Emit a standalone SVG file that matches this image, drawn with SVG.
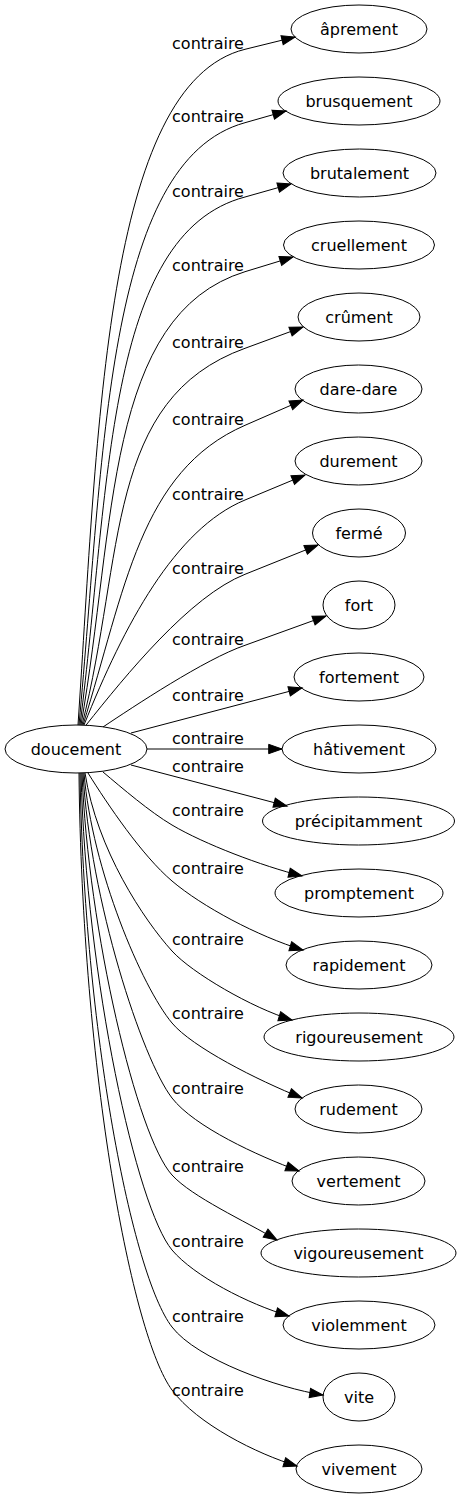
<svg xmlns="http://www.w3.org/2000/svg" width="461" height="1499" viewBox="0 0 461 1499">
<style>
  .node ellipse { fill: none; stroke: #000; stroke-width: 1; }
  text { font-family: "DejaVu Sans", "Liberation Sans", sans-serif; font-size: 16px; fill: #000; text-anchor: middle; }
  .edge path { fill: none; stroke: #000; stroke-width: 1; marker-end: url(#arrow); }
</style>
<defs>
  <marker id="arrow" markerWidth="14" markerHeight="10" refX="13.3" refY="4.67" orient="auto" markerUnits="userSpaceOnUse" overflow="visible">
    <path d="M0,0 L13.3,4.67 L0,9.33 Z" fill="#000" stroke="#000" stroke-width="1"/>
  </marker>
</defs>
<rect width="461" height="1499" fill="#fff"/>
<g id="edges">
  <g class="edge" id="e1"><path d="M78,725 C98,428 105,84 245,49.3 L295,37"/><text x="208" y="48.8">contraire</text></g>
  <g class="edge" id="e2"><path d="M79,725 C104,457 105,161 245,122.7 L286,111"/><text x="208" y="122.2">contraire</text></g>
  <g class="edge" id="e3"><path d="M80,725 C110,490 105,234 245,197 L291,184"/><text x="208" y="196.5">contraire</text></g>
  <g class="edge" id="e4"><path d="M81,725 C116,525 105,315 245,271.7 L293,257"/><text x="208" y="271.2">contraire</text></g>
  <g class="edge" id="e5"><path d="M82,725 C125,555 105,399 245,348.3 L303,327"/><text x="208" y="347.8">contraire</text></g>
  <g class="edge" id="e6"><path d="M83,725 C125,590 140,471 245,425.3 L303,400"/><text x="208" y="424.8">contraire</text></g>
  <g class="edge" id="e7"><path d="M84,725 C124,625 175,529 245,500 L305,475"/><text x="208" y="499.5">contraire</text></g>
  <g class="edge" id="e8"><path d="M86,725.2 C126,675 190,596 245,574.3 L318,545"/><text x="208" y="573.8">contraire</text></g>
  <g class="edge" id="e9"><path d="M103,727 C133,707 205,659 245,645.3 L326,616"/><text x="208" y="644.8">contraire</text></g>
  <g class="edge" id="e10"><path d="M131,733 L302,688"/><text x="208" y="701.2">contraire</text></g>
  <g class="edge" id="e11"><path d="M147,749 L282,749"/><text x="208" y="743.8">contraire</text></g>
  <g class="edge" id="e12"><path d="M131,765 L287,806"/><text x="208" y="771.5">contraire</text></g>
  <g class="edge" id="e13"><path d="M103,772 C122,788 150,812 172,825 C204,844 262,866 302,876"/><text x="208" y="815.5">contraire</text></g>
  <g class="edge" id="e14"><path d="M88,773 C108,805 142,855.5 172,881 C202,906.5 258,936.5 303,950"/><text x="208" y="873.8">contraire</text></g>
  <g class="edge" id="e15"><path d="M85,773 C97,850 144,920 172,951 C192,973 252,1008 292,1020"/><text x="208" y="944.8">contraire</text></g>
  <g class="edge" id="e16"><path d="M84,773 C92,870 142,987 172,1023 C192,1047 257,1080 302,1098"/><text x="208" y="1018.8">contraire</text></g>
  <g class="edge" id="e17"><path d="M83,773 C90,900 142,1059 172,1098 C194,1126.6 258,1156 299,1171"/><text x="208" y="1093.8">contraire</text></g>
  <g class="edge" id="e18"><path d="M82,773 C88,930 137,1136.5 172,1175 C192,1197 245,1221 277,1240"/><text x="208" y="1171.5">contraire</text></g>
  <g class="edge" id="e19"><path d="M81,773 C86,980 137,1208 172,1250 C194,1276 248,1304 289,1316"/><text x="208" y="1247.2">contraire</text></g>
  <g class="edge" id="e20"><path d="M80,773 C84,1030 132,1275 172,1327 C197,1359.5 278,1388 323,1395"/><text x="208" y="1322.2">contraire</text></g>
  <g class="edge" id="e21"><path d="M79,773 C82,1073 132,1336 172,1390 C197,1424 257,1454 297,1466"/><text x="208" y="1395.5">contraire</text></g>
</g>
<g class="node" id="doucement"><ellipse cx="76" cy="749" rx="71" ry="24"/><text x="76" y="754.5">doucement</text></g>
<g class="node" id="aprement"><ellipse cx="359" cy="29" rx="68" ry="24"/><text x="359" y="34.5">âprement</text></g>
<g class="node" id="brusquement"><ellipse cx="359" cy="101" rx="81" ry="24"/><text x="359" y="106.5">brusquement</text></g>
<g class="node" id="brutalement"><ellipse cx="359.5" cy="173" rx="76.5" ry="24"/><text x="359.5" y="178.5">brutalement</text></g>
<g class="node" id="cruellement"><ellipse cx="359" cy="245" rx="75.5" ry="24"/><text x="359" y="250.5">cruellement</text></g>
<g class="node" id="crument"><ellipse cx="359" cy="317" rx="61" ry="24"/><text x="359" y="322.5">crûment</text></g>
<g class="node" id="dare-dare"><ellipse cx="358.5" cy="389" rx="63.5" ry="24"/><text x="358.5" y="394.5">dare-dare</text></g>
<g class="node" id="durement"><ellipse cx="358.5" cy="461" rx="63.5" ry="24"/><text x="358.5" y="466.5">durement</text></g>
<g class="node" id="ferme"><ellipse cx="359" cy="533" rx="46.5" ry="24"/><text x="359" y="538.5">fermé</text></g>
<g class="node" id="fort"><ellipse cx="359" cy="605" rx="36" ry="24"/><text x="359" y="610.5">fort</text></g>
<g class="node" id="fortement"><ellipse cx="359" cy="677" rx="65" ry="24"/><text x="359" y="682.5">fortement</text></g>
<g class="node" id="hativement"><ellipse cx="359" cy="749" rx="77" ry="24"/><text x="359" y="754.5">hâtivement</text></g>
<g class="node" id="precipitamment"><ellipse cx="358.5" cy="821" rx="96" ry="24"/><text x="358.5" y="826.5">précipitamment</text></g>
<g class="node" id="promptement"><ellipse cx="359" cy="893" rx="84" ry="24"/><text x="359" y="898.5">promptement</text></g>
<g class="node" id="rapidement"><ellipse cx="359" cy="965" rx="73" ry="24"/><text x="359" y="970.5">rapidement</text></g>
<g class="node" id="rigoureusement"><ellipse cx="359" cy="1037" rx="95" ry="24"/><text x="359" y="1042.5">rigoureusement</text></g>
<g class="node" id="rudement"><ellipse cx="358.5" cy="1109" rx="63.5" ry="24"/><text x="358.5" y="1114.5">rudement</text></g>
<g class="node" id="vertement"><ellipse cx="358.5" cy="1181" rx="66.5" ry="24"/><text x="358.5" y="1186.5">vertement</text></g>
<g class="node" id="vigoureusement"><ellipse cx="358.5" cy="1253" rx="97.5" ry="24"/><text x="358.5" y="1258.5">vigoureusement</text></g>
<g class="node" id="violemment"><ellipse cx="359" cy="1325" rx="76" ry="24"/><text x="359" y="1330.5">violemment</text></g>
<g class="node" id="vite"><ellipse cx="359" cy="1397" rx="36" ry="24"/><text x="359" y="1402.5">vite</text></g>
<g class="node" id="vivement"><ellipse cx="359" cy="1469" rx="63" ry="24"/><text x="359" y="1474.5">vivement</text></g>
</svg>
